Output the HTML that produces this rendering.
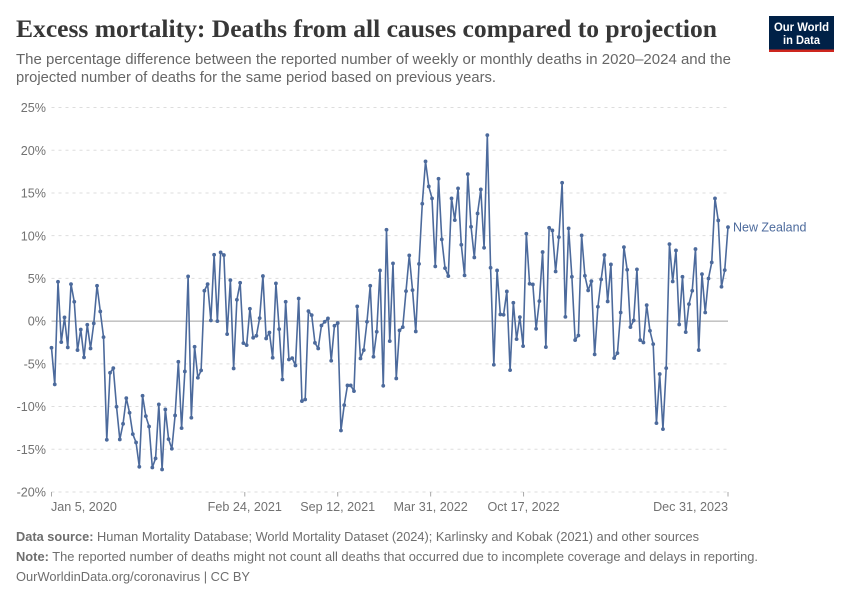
<!DOCTYPE html>
<html lang="en">
<head>
<meta charset="utf-8">
<title>Excess mortality: Deaths from all causes compared to projection</title>
<style>
html,body{margin:0;padding:0;background:#fff;}
body{width:850px;height:600px;overflow:hidden;font-family:"Liberation Sans",sans-serif;}
svg{display:block;}
</style>
</head>
<body>
<svg id="chart" xmlns="http://www.w3.org/2000/svg" width="850" height="600" viewBox="0 0 850 600">
  <rect x="0" y="0" width="850" height="600" fill="#fff"/>
  <text x="16" y="37" font-family="'Liberation Serif',serif" font-weight="700" font-size="25" fill="#373737" textLength="701" lengthAdjust="spacingAndGlyphs">Excess mortality: Deaths from all causes compared to projection</text>
  <text x="16" y="64" font-size="14.5" fill="#666666" textLength="715" lengthAdjust="spacingAndGlyphs">The percentage difference between the reported number of weekly or monthly deaths in 2020–2024 and the</text>
  <text x="16" y="82" font-size="14.5" fill="#666666" textLength="480" lengthAdjust="spacingAndGlyphs">projected number of deaths for the same period based on previous years.</text>

  <g>
    <rect x="769" y="16" width="65" height="36" fill="#002147"/>
    <rect x="769" y="49.5" width="65" height="2.5" fill="#ce261e"/>
    <text x="801.5" y="31" text-anchor="middle" font-size="11.5" font-weight="700" fill="#fff" textLength="55" lengthAdjust="spacingAndGlyphs">Our World</text>
    <text x="801.5" y="44" text-anchor="middle" font-size="11.5" font-weight="700" fill="#fff" textLength="37" lengthAdjust="spacingAndGlyphs">in Data</text>
  </g>

  <g id="y-axis"></g>
  <g id="x-axis"></g>
  <g id="series"></g>

  <text x="16" y="541" font-size="13" fill="#6e6e6e" textLength="683" lengthAdjust="spacingAndGlyphs"><tspan font-weight="700">Data source:</tspan> Human Mortality Database; World Mortality Dataset (2024); Karlinsky and Kobak (2021) and other sources</text>
  <text x="16" y="561" font-size="13" fill="#6e6e6e" textLength="742" lengthAdjust="spacingAndGlyphs"><tspan font-weight="700">Note:</tspan> The reported number of deaths might not count all deaths that occurred due to incomplete coverage and delays in reporting.</text>
  <text x="16" y="581" font-size="13" fill="#6e6e6e" textLength="234" lengthAdjust="spacingAndGlyphs">OurWorldinData.org/coronavirus | CC BY</text>
</svg>
<script>
const seriesName = "New Zealand";
const firstDate = "2020-01-05";
const lastDate = "2023-12-31";
const yTicks = [25, 20, 15, 10, 5, 0, -5, -10, -15, -20];
const xTickDates = ["2020-01-05", "2021-02-24", "2021-09-12", "2022-03-31", "2022-10-17", "2023-12-31"];
const xTickLabels = ["Jan 5, 2020", "Feb 24, 2021", "Sep 12, 2021", "Mar 31, 2022", "Oct 17, 2022", "Dec 31, 2023"];
const weeklyValues = [
  -3.12, -7.41, 4.6, -2.46, 0.43, -3.08, 4.33, 2.26, -3.39, -0.98,
  -4.25, -0.43, -3.2, -0.27, 4.14, 1.13, -1.87, -13.89, -6.05, -5.5,
  -10.03, -13.85, -12.02, -9.01, -10.73, -13.23, -14.2, -17.05, -8.74, -11.12,
  -12.33, -17.13, -16.07, -9.75, -17.36, -10.34, -13.81, -14.94, -11.04, -4.76,
  -12.52, -5.89, 5.23, -11.31, -3.0, -6.63, -5.77, 3.55, 4.33, 0.08,
  7.76, 0.0, 8.04, 7.73, -1.52, 4.8, -5.54, 2.5, 4.49, -2.58,
  -2.81, 1.44, -1.95, -1.72, 0.35, 5.27, -2.03, -1.33, -4.29, 4.41,
  -0.94, -6.83, 2.26, -4.49, -4.33, -5.19, 2.65, -9.36, -9.17, 1.17,
  0.7, -2.54, -3.2, -0.51, -0.08, 0.31, -4.64, -0.55, -0.23, -12.8,
  -9.83, -7.53, -7.53, -8.19, 1.72, -4.37, -3.39, -0.08, 4.14, -4.17,
  -1.25, 5.93, -7.57, 10.69, -2.34, 6.75, -6.71, -1.09, -0.7, 3.51,
  7.69, 3.63, -1.21, 6.7, 13.73, 18.69, 15.76, 14.36, 6.4, 16.66,
  9.56, 6.2, 5.27, 14.36, 11.82, 15.53, 8.93, 5.35, 17.2, 11.04,
  7.45, 12.6, 15.41, 8.58, 21.77, 6.24, -5.11, 5.93, 0.78, 0.74,
  3.47, -5.74, 2.15, -2.11, 0.47, -2.93, 10.22, 4.37, 4.29, -0.9,
  2.34, 8.08, -3.04, 10.92, 10.61, 5.81, 9.83, 16.19, 0.5, 10.85,
  5.19, -2.22, -1.68, 10.03, 5.31, 3.59, 4.68, -3.9, 1.68, 4.88,
  7.73, 2.3, 6.63, -4.33, -3.75, 1.01, 8.66, 6.01, -0.7, 0.08,
  6.05, -2.22, -2.5, 1.87, -1.13, -2.69, -11.94, -6.2, -12.64, -5.5,
  9.01, 4.64, 8.27, -0.39, 5.19, -1.29, 1.99, 3.55, 8.43, -3.39,
  5.5, 1.01, 4.99, 6.87, 14.36, 11.78, 4.02, 5.97, 11.0
];

const SVG_NS = "http://www.w3.org/2000/svg";
const plot = { left: 51.5, right: 728, top: 107.5, bottom: 492 };
const yMin = -20, yMax = 25;
const DAY = 86400000;
const t0 = Date.parse(firstDate), t1 = Date.parse(lastDate);
function xFromDays(days) {
  return plot.left + (days / ((t1 - t0) / DAY)) * (plot.right - plot.left);
}
function xFromDate(s) {
  return xFromDays((Date.parse(s) - t0) / DAY);
}
function xFromIndex(i) {
  return xFromDays(i * (((t1 - t0) / DAY) / (weeklyValues.length - 1)));
}
function yScale(v) {
  return plot.bottom - ((v - yMin) / (yMax - yMin)) * (plot.bottom - plot.top);
}
function make(tag, attrs, parent) {
  const el = document.createElementNS(SVG_NS, tag);
  for (const k in attrs) el.setAttribute(k, attrs[k]);
  parent.appendChild(el);
  return el;
}

const yGroup = document.getElementById("y-axis");
const xGroup = document.getElementById("x-axis");
const sGroup = document.getElementById("series");

yTicks.forEach(function (v) {
  const y = yScale(v);
  const zero = v === 0;
  const line = make("line", {
    x1: plot.left, x2: plot.right, y1: y, y2: y,
    stroke: zero ? "#a1a1a1" : "#dddddd",
    "stroke-width": 1,
    "stroke-dasharray": zero ? "none" : "3,4"
  }, yGroup);
  
  
  const label = make("text", {
    x: 46, y: y + 4.6, "text-anchor": "end", "font-size": 12.6, fill: "#727272"
  }, yGroup);
  
  
  label.textContent = v + "%";
});

xTickDates.forEach(function (d, i) {
  const x = xFromDate(d);
  const tick = make("line", {
    x1: x, x2: x, y1: plot.bottom, y2: plot.bottom + 4.5, stroke: "#a8a8a8", "stroke-width": 1
  }, xGroup);
  
  
  const first = i === 0, last = i === xTickDates.length - 1;
  const label = make("text", {
    x: first ? x - 0.5 : x,
    y: 511,
    "text-anchor": first ? "start" : (last ? "end" : "middle"),
    "font-size": 12.6,
    fill: "#727272"
  }, xGroup);
  
  
  label.textContent = xTickLabels[i];
});

const linePoints = weeklyValues.map(function (v, i) {
  return xFromIndex(i).toFixed(2) + "," + yScale(v).toFixed(2);
}).join(" ");
const seriesLine = make("polyline", {
  points: linePoints, fill: "none", stroke: "#4C6A9C", "stroke-width": 1.6, "stroke-linejoin": "round"
}, sGroup);



weeklyValues.forEach(function (v, i) {
  const dot = make("circle", {
    cx: xFromIndex(i), cy: yScale(v), r: 1.9, fill: "#4C6A9C"
  }, sGroup);
  
  
});

const legend = make("text", {
  x: 733,
  y: yScale(weeklyValues[weeklyValues.length - 1]) + 4.5,
  "font-size": 13,
  fill: "#4C6A9C",
  textLength: 73.5,
  lengthAdjust: "spacingAndGlyphs"
}, sGroup);


legend.textContent = seriesName;
</script>
</body>
</html>
